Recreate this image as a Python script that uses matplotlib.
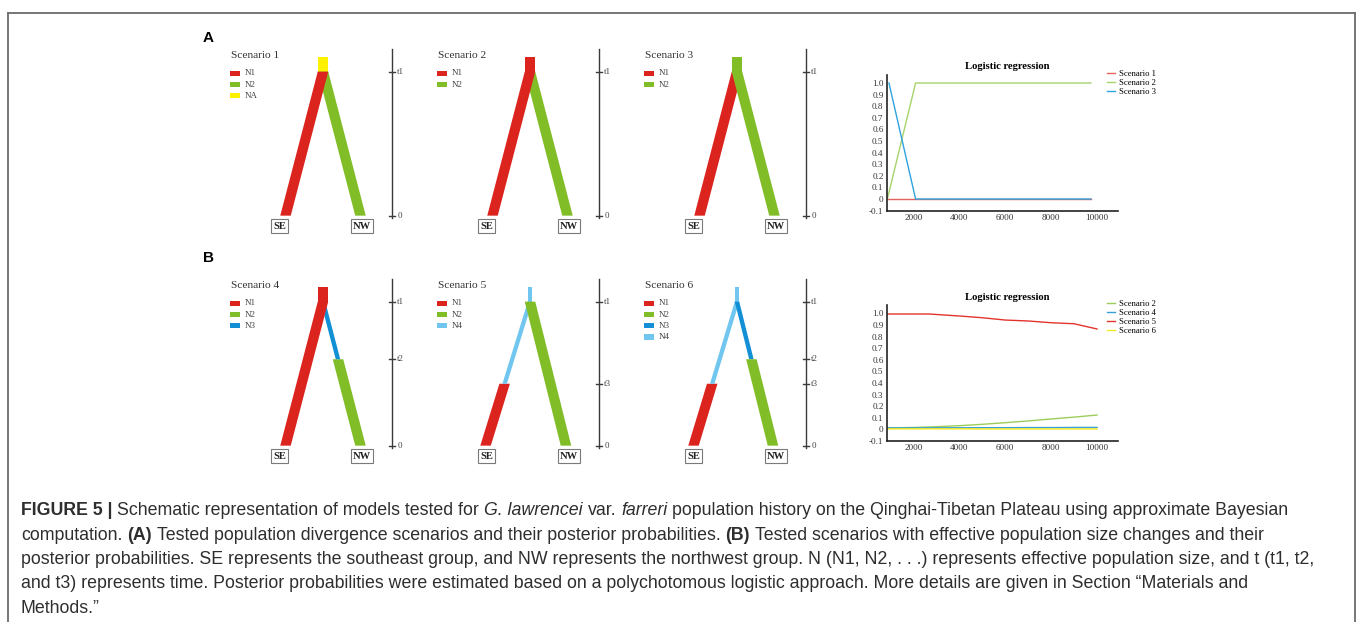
import matplotlib
matplotlib.use("Agg")
import matplotlib.pyplot as plt
from matplotlib.patches import Polygon, Rectangle
from matplotlib.lines import Line2D

W, H, DPI = 1360, 622, 100
SERIF = "Liberation Serif"
SANS = "Liberation Sans"

# ---------------- scenario schematics ----------------
scenario_names = ["Scenario 1", "Scenario 2", "Scenario 3",
                  "Scenario 4", "Scenario 5", "Scenario 6"]
# event times on the relative scale of the drawings (t1 = 1)
scenario_times = [
    {"t1": 1.0},
    {"t1": 1.0},
    {"t1": 1.0},
    {"t1": 1.0, "t2": 0.6},
    {"t1": 1.0, "t3": 0.43},
    {"t1": 1.0, "t2": 0.6, "t3": 0.43},
]
scenario_legends = [["N1", "N2", "NA"], ["N1", "N2"], ["N1", "N2"],
                    ["N1", "N2", "N3"], ["N1", "N2", "N4"], ["N1", "N2", "N3", "N4"]]
# (population, lineage, from time, to time) in drawing order
scenario_branches = [
    [("NA", "anc", "t1", "top"), ("N2", "NW", "0", "t1"), ("N1", "SE", "0", "t1")],
    [("N2", "NW", "0", "t1"), ("N1", "SE", "0", "t1"), ("N1", "anc", "t1", "top")],
    [("N1", "SE", "0", "t1"), ("N2", "anc", "t1", "top"), ("N2", "NW", "0", "t1")],
    [("N2", "NW", "0", "t2"), ("N3", "NW", "t2", "t1"), ("N1", "SE", "0", "t1"),
     ("N1", "anc", "t1", "top")],
    [("N1", "SE", "0", "t3"), ("N4", "SE", "t3", "t1"), ("N4", "anc", "t1", "top"),
     ("N2", "NW", "0", "t1")],
    [("N1", "SE", "0", "t3"), ("N4", "SE", "t3", "t1"), ("N4", "anc", "t1", "top"),
     ("N3", "NW", "t2", "t1"), ("N2", "NW", "0", "t2")],
]
# where the SE / NW lineages sit at time 0 (ancestor at 0.5)
lineage_ends = [(0.0, 1.0), (0.0, 1.0), (0.0, 1.0), (0.0, 1.0), (-0.093, 0.98), (-0.08, 0.98)]

pop_colors = {"N1": "#dc241f", "N2": "#80bd26", "NA": "#fff200",
              "N3": "#138fd6", "N4": "#71c6ef"}
pop_half = {"N1": 0.07, "N2": 0.07, "NA": 0.07, "N3": 0.03, "N4": 0.03}

# ---------------- logistic regression curves ----------------
reg_a_x = [870, 2100, 9730]
reg_a_x3 = [940, 2100, 9730]
reg_a_s1 = [0.0, 0.0, 0.0]
reg_a_s2 = [0.0, 1.0, 1.0]
reg_a_s3 = [1.0, 0.0, 0.0]

reg_b_x = [870, 2000, 2700, 4000, 5000, 6000, 7000, 8000, 9000, 10000]
reg_b_s2 = [0.012, 0.016, 0.020, 0.031, 0.043, 0.057, 0.072, 0.089, 0.105, 0.123]
reg_b_s4 = [0.012, 0.012, 0.013, 0.013, 0.014, 0.014, 0.015, 0.015, 0.016, 0.016]
reg_b_s5 = [0.994, 0.994, 0.994, 0.977, 0.962, 0.942, 0.934, 0.919, 0.910, 0.865]
reg_b_s6 = [0.004, 0.004, 0.004, 0.004, 0.003, 0.003, 0.003, 0.003, 0.003, 0.003]

reg_yticks = [1.0, 0.9, 0.8, 0.7, 0.6, 0.5, 0.4, 0.3, 0.2, 0.1, 0.0, -0.1]
reg_ylabels = ["1.0", "0.9", "0.8", "0.7", "0.6", "0.5", "0.4", "0.3", "0.2", "0.1", "0", "-0.1"]
reg_xticks = [2000, 4000, 6000, 8000, 10000]

# ---------------- caption ----------------
caption_lines = [
    [("FIGURE 5 |", "b"), ("Schematic representation of models tested for", "n"),
     ("G. lawrencei", "i"), ("var.", "n"), ("farreri", "i"),
     ("population history on the Qinghai-Tibetan Plateau using approximate Bayesian", "n")],
    [("computation.", "n"), ("(A)", "b"),
     ("Tested population divergence scenarios and their posterior probabilities.", "n"),
     ("(B)", "b"), ("Tested scenarios with effective population size changes and their", "n")],
    [("posterior probabilities. SE represents the southeast group, and NW represents the "
      "northwest group. N (N1, N2, . . .) represents effective population size, and t (t1, t2,", "n")],
    [("and t3) represents time. Posterior probabilities were estimated based on a polychotomous "
      "logistic approach. More details are given in Section \u201cMaterials and", "n")],
    [("Methods.\u201d", "n")],
]
caption_baselines = [515, 539.5, 564, 588.5, 613]

fig = plt.figure(figsize=(W / DPI, H / DPI), dpi=DPI)


def px_axes(left, top, right, bottom):
    return fig.add_axes([left / W, 1 - bottom / H, (right - left) / W, (bottom - top) / H])


# frame round the figure
frame_kw = dict(transform=fig.transFigure, color="#6b6b6b", lw=1.3)
fig.add_artist(Line2D([7.5 / W, 7.5 / W], [0, 1 - 13 / H], **frame_kw))
fig.add_artist(Line2D([1355 / W, 1355 / W], [0, 1 - 13 / H], **frame_kw))
fig.add_artist(Line2D([7.5 / W, 1355 / W], [1 - 13 / H, 1 - 13 / H], **frame_kw))

fig.text(208 / W, 1 - 37.5 / H, "A", family=SANS, fontweight="bold", fontsize=11,
         ha="center", va="center")
fig.text(208 / W, 1 - 257.5 / H, "B", family=SANS, fontweight="bold", fontsize=11,
         ha="center", va="center")

for i, name in enumerate(scenario_names):
    col, row = i % 3, i // 3
    x0 = 225 + 207 * col
    y0 = 45 + 230 * row
    ax = px_axes(x0, y0, x0 + 190, y0 + 195)
    ax.set_xlim(-0.807, 1.727)
    ax.set_ylim(-0.169, 1.185)
    ax.axis("off")

    times = dict(scenario_times[i])
    times["0"] = 0.0
    times["top"] = 1.1
    se, nw = lineage_ends[i]

    def lineage_x(lin, t):
        if lin == "SE":
            return se + (0.5 - se) * min(t, 1.0)
        if lin == "NW":
            return nw + (0.5 - nw) * min(t, 1.0)
        return 0.5

    for pop, lin, ta, tb in scenario_branches[i]:
        ya, yb = times[ta], times[tb]
        xa, xb = lineage_x(lin, ya), lineage_x(lin, yb)
        h = pop_half[pop]
        ax.add_patch(Polygon([(xa - h, ya), (xa + h, ya), (xb + h, yb), (xb - h, yb)],
                             closed=True, fc=pop_colors[pop], ec="none"))

    # time axis
    ax.plot([1.416, 1.416], [-0.016, 1.16], color="#3a3a3a", lw=1.0)
    for key, t in times.items():
        if key == "top":
            continue
        ax.plot([1.376, 1.456], [t, t], color="#3a3a3a", lw=1.0)
        ax.text(1.49, t, key, family=SERIF, fontsize=6.5, color="#444444",
                ha="left", va="center")

    # title and key
    ax.text(-0.727, 1.109, name, family=SERIF, fontsize=8.2, color="#333333",
            ha="left", va="center")
    for k, pop in enumerate(scenario_legends[i]):
        yk = 0.988 - 0.078 * k
        ax.add_patch(Rectangle((-0.74, yk - 0.018), 0.133, 0.036, fc=pop_colors[pop], ec="none"))
        ax.text(-0.54, yk, pop, family=SERIF, fontsize=6.5, color="#444444",
                ha="left", va="center")

    for lab, lx in (("SE", -0.08), ("NW", 1.02)):
        ax.text(lx, -0.072, lab, family=SERIF, fontweight="bold", fontsize=7.6,
                color="#222222", ha="center", va="center",
                bbox=dict(boxstyle="square,pad=0.2", fc="white", ec="#7a7a7a", lw=0.8))


def style_regression(ax, top_handles):
    ax.set_xlim(855, 10900)
    ax.set_ylim(-0.1, 1.07)
    for side in ("top", "right"):
        ax.spines[side].set_visible(False)
    for side in ("left", "bottom"):
        ax.spines[side].set_color("#222222")
        ax.spines[side].set_linewidth(1.2)
    ax.set_yticks(reg_yticks)
    ax.set_yticklabels(reg_ylabels)
    ax.set_xticks(reg_xticks)
    ax.tick_params(length=0, labelsize=6.6, pad=2.5, labelcolor="#333333")
    for lab in ax.get_xticklabels() + ax.get_yticklabels():
        lab.set_family(SERIF)
    ax.set_title("Logistic regression", family=SERIF, fontweight="bold", fontsize=7.7,
                 x=0.52, pad=4)
    ax.legend(handles=top_handles, loc="upper left", bbox_to_anchor=(0.955, 1.035),
              frameon=False, prop={"family": SERIF, "size": 6.2}, handlelength=0.9,
              handletextpad=0.4, labelspacing=0.1, borderaxespad=0, borderpad=0)


ax_a = px_axes(887, 74.9, 1117.7, 210.6)
ax_a.plot(reg_a_x, reg_a_s1, color="#e2645a", lw=1.0, label="Scenario 1")
ax_a.plot(reg_a_x, reg_a_s2, color="#a6d36a", lw=1.0, label="Scenario 2")
ax_a.plot(reg_a_x3, reg_a_s3, color="#2fa3de", lw=1.0, label="Scenario 3")
style_regression(ax_a, ax_a.get_lines())

ax_b = px_axes(887, 305.2, 1117.7, 440.9)
ax_b.plot(reg_b_x, reg_b_s2, color="#9ccd5a", lw=1.0, label="Scenario 2")
ax_b.plot(reg_b_x, reg_b_s4, color="#3a9fd6", lw=1.0, label="Scenario 4")
ax_b.plot(reg_b_x, reg_b_s5, color="#e3342c", lw=1.0, label="Scenario 5")
ax_b.plot(reg_b_x, reg_b_s6, color="#f2ea1a", lw=1.0, label="Scenario 6")
style_regression(ax_b, ax_b.get_lines())

# caption, laid out segment by segment so bold / italic runs sit inline
renderer = fig.canvas.get_renderer()
cap_kw = dict(family=SANS, fontsize=12.8, color="#2e2e2e")
cap_style = {"n": {}, "b": {"fontweight": "bold"}, "i": {"fontstyle": "italic"}}
probe1 = fig.text(0, 0, "a a", **cap_kw)
probe2 = fig.text(0, 0, "aa", **cap_kw)
space_px = probe1.get_window_extent(renderer).width - probe2.get_window_extent(renderer).width
probe1.remove()
probe2.remove()

for line, base in zip(caption_lines, caption_baselines):
    x = 21
    for seg, st in line:
        t = fig.text(x / W, 1 - base / H, seg, ha="left", va="baseline", **cap_kw, **cap_style[st])
        x += t.get_window_extent(renderer).width + space_px

fig.savefig("out.png", dpi=DPI)
